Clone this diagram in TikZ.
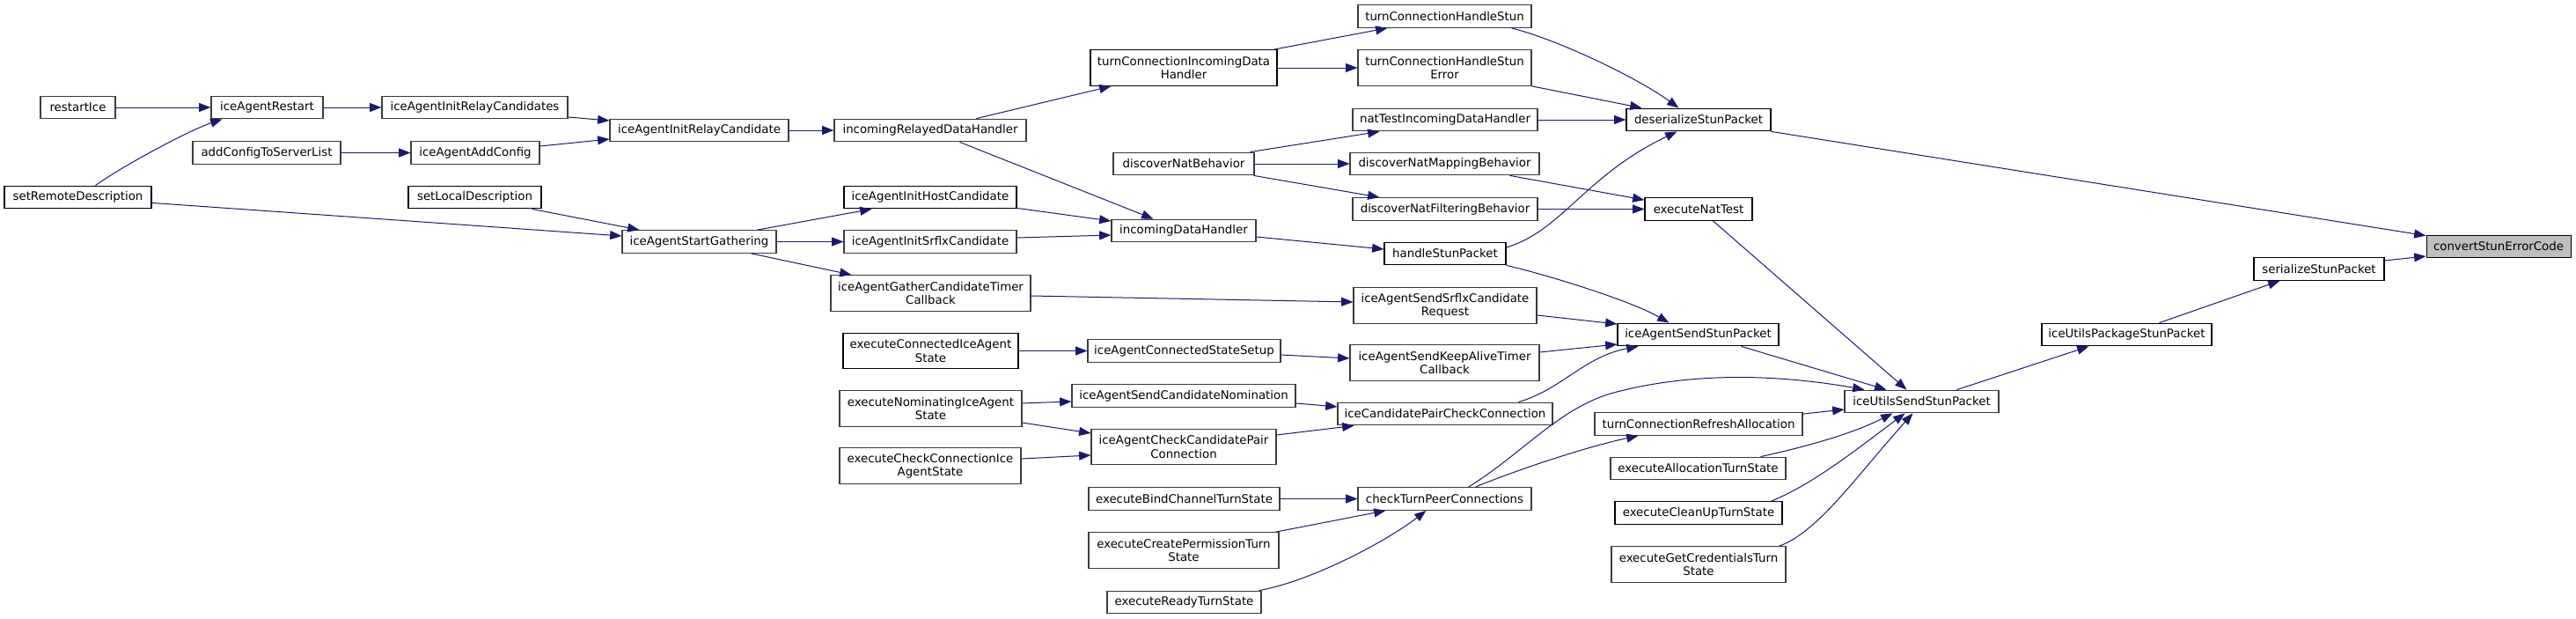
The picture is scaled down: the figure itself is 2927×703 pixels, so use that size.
\documentclass[tikz,border=0pt]{standalone}
\usepackage{fontspec}
\setmainfont{DejaVu Sans}
\usetikzlibrary{arrows.meta,calc}
\definecolor{edgeblue}{HTML}{191970}
\definecolor{bordergray}{HTML}{3C3C3C}
\definecolor{mainfill}{HTML}{BFBFBF}
\tikzset{
  box/.style={draw=bordergray, line width=0.8pt, fill=white, rectangle, inner sep=0pt, align=center,
    font=\fontsize{10}{11.3}\selectfont, text=black},
  dark/.style={draw=black},
  one/.style={box, minimum height=19.3pt},
  two/.style={box, minimum height=30.5pt},
  wd/.style={minimum width=#1*0.75pt},
  call/.style={draw=edgeblue, line width=0.75pt, -{Triangle[length=10pt,width=7.5pt]}, color=edgeblue},
}
\begin{document}
\begin{tikzpicture}[x=0.75pt,y=-0.75pt]
\useasboundingbox (0,0) rectangle (2927,703);
% column 1
\node[one,wd=85] (restartIce) at (88.5,122) {restartIce};
\node[one,wd=167,dark] (setRemoteDescription) at (88.5,224) {setRemoteDescription};
% column 2
\node[one,wd=127] (iceAgentRestart) at (303.5,122) {iceAgentRestart};
\node[one,wd=168] (addConfigToServerList) at (303,173.5) {addConfigToServerList};
% column 3
\node[one,wd=211] (iceAgentInitRelayCandidates) at (539.5,122) {iceAgentInitRelayCandidates};
\node[one,wd=146] (iceAgentAddConfig) at (540,173.5) {iceAgentAddConfig};
\node[one,wd=151,dark] (setLocalDescription) at (539.5,224) {setLocalDescription};
% column 4
\node[one,wd=203] (iceAgentInitRelayCandidate) at (794.5,148) {iceAgentInitRelayCandidate};
\node[one,wd=175] (iceAgentStartGathering) at (794.5,274.5) {iceAgentStartGathering};
% column 5
\node[one,wd=218] (incomingRelayedDataHandler) at (1057,148) {incomingRelayedDataHandler};
\node[one,wd=196,dark] (iceAgentInitHostCandidate) at (1057,224) {iceAgentInitHostCandidate};
\node[one,wd=196] (iceAgentInitSrflxCandidate) at (1057,274.5) {iceAgentInitSrflxCandidate};
\node[two,wd=227] (iceAgentGatherCandidateTimerCallback) at (1057.5,333) {iceAgentGatherCandidateTimer\\Callback};
\node[two,wd=199,dark] (executeConnectedIceAgentState) at (1057.5,398.5) {executeConnectedIceAgent\\State};
\node[two,wd=207] (executeNominatingIceAgentState) at (1057.5,464) {executeNominatingIceAgent\\State};
\node[two,wd=206] (executeCheckConnectionIceAgentState) at (1057,529) {executeCheckConnectionIce\\AgentState};
% column 6
\node[two,wd=212,dark] (turnConnectionIncomingDataHandler) at (1345,77) {turnConnectionIncomingData\\Handler};
\node[one,wd=160] (discoverNatBehavior) at (1345,186) {discoverNatBehavior};
\node[one,wd=164] (incomingDataHandler) at (1345,262) {incomingDataHandler};
\node[one,wd=219] (iceAgentConnectedStateSetup) at (1345.5,398.5) {iceAgentConnectedStateSetup};
\node[one,wd=254] (iceAgentSendCandidateNomination) at (1345,449.5) {iceAgentSendCandidateNomination};
\node[two,wd=210] (iceAgentCheckCandidatePairConnection) at (1345,507.5) {iceAgentCheckCandidatePair\\Connection};
\node[one,wd=217] (executeBindChannelTurnState) at (1345.5,566.5) {executeBindChannelTurnState};
\node[two,wd=216] (executeCreatePermissionTurnState) at (1345,625) {executeCreatePermissionTurn\\State};
\node[one,wd=175] (executeReadyTurnState) at (1345.5,684) {executeReadyTurnState};
% column 7
\node[one,wd=197] (turnConnectionHandleStun) at (1641.5,18.5) {turnConnectionHandleStun};
\node[two,wd=197] (turnConnectionHandleStunError) at (1641.5,77) {turnConnectionHandleStun\\Error};
\node[one,wd=210] (natTestIncomingDataHandler) at (1642,136) {natTestIncomingDataHandler};
\node[one,wd=215] (discoverNatMappingBehavior) at (1641.5,186) {discoverNatMappingBehavior};
\node[one,wd=210] (discoverNatFilteringBehavior) at (1642,237.5) {discoverNatFilteringBehavior};
\node[one,wd=138,dark] (handleStunPacket) at (1642,288) {handleStunPacket};
\node[two,wd=208] (iceAgentSendSrflxCandidateRequest) at (1642,347) {iceAgentSendSrflxCandidate\\Request};
\node[two,wd=215] (iceAgentSendKeepAliveTimerCallback) at (1641.5,412) {iceAgentSendKeepAliveTimer\\Callback};
\node[one,wd=244] (iceCandidatePairCheckConnection) at (1642,470) {iceCandidatePairCheckConnection};
\node[one,wd=197] (checkTurnPeerConnections) at (1641.5,566.5) {checkTurnPeerConnections};
% column 8
\node[one,wd=164,dark] (deserializeStunPacket) at (1930,136) {deserializeStunPacket};
\node[one,wd=122,dark] (executeNatTest) at (1930,237.5) {executeNatTest};
\node[one,wd=183,dark] (iceAgentSendStunPacket) at (1929.5,380) {iceAgentSendStunPacket};
\node[one,wd=236] (turnConnectionRefreshAllocation) at (1930,481.5) {turnConnectionRefreshAllocation};
\node[one,wd=199] (executeAllocationTurnState) at (1929.5,532) {executeAllocationTurnState};
\node[one,wd=190,dark] (executeCleanUpTurnState) at (1930,582.5) {executeCleanUpTurnState};
\node[two,wd=198] (executeGetCredentialsTurnState) at (1930,641) {executeGetCredentialsTurn\\State};
% column 9-12
\node[one,wd=175] (iceUtilsSendStunPacket) at (2183.5,456) {iceUtilsSendStunPacket};
\node[one,wd=193,dark] (iceUtilsPackageStunPacket) at (2416.5,380) {iceUtilsPackageStunPacket};
\node[one,wd=148,dark] (serializeStunPacket) at (2635,305.5) {serializeStunPacket};
\node[one,wd=164,dark,fill=mainfill] (convertStunErrorCode) at (2839,280) {convertStunErrorCode};

% edges
\draw[call] (restartIce.east) -- (iceAgentRestart.west);
\draw[call] ($(setRemoteDescription.north west)+(104,0)$) .. controls (140,188) and (215,148) .. ($(iceAgentRestart.south west)+(13,0)$);
\draw[call] ($(setRemoteDescription.south east)+(0,-7)$) -- ($(iceAgentStartGathering.west)+(0,-6.5)$);
\draw[call] (iceAgentRestart.east) -- (iceAgentInitRelayCandidates.west);
\draw[call] (addConfigToServerList.east) -- (iceAgentAddConfig.west);
\draw[call] ($(iceAgentInitRelayCandidates.east)+(0,11)$) -- ($(iceAgentInitRelayCandidate.west)+(0,-11)$);
\draw[call] ($(iceAgentAddConfig.east)+(0,-7.5)$) -- ($(iceAgentInitRelayCandidate.west)+(0,10)$);
\draw[call] ($(setLocalDescription.south west)+(141,0)$) -- ($(iceAgentStartGathering.north west)+(20,0)$);
\draw[call] (iceAgentInitRelayCandidate.east) -- (incomingRelayedDataHandler.west);
\draw[call] ($(incomingRelayedDataHandler.north west)+(162,0)$) -- ($(turnConnectionIncomingDataHandler.south west)+(24,0)$);
\draw[call] ($(incomingRelayedDataHandler.south west)+(143,0)$) -- ($(incomingDataHandler.north west)+(48,0)$);
\draw[call] ($(iceAgentStartGathering.north west)+(154,0)$) -- ($(iceAgentInitHostCandidate.south west)+(32,0)$);
\draw[call] (iceAgentStartGathering.east) -- (iceAgentInitSrflxCandidate.west);
\draw[call] ($(iceAgentStartGathering.south west)+(147,0)$) -- ($(iceAgentGatherCandidateTimerCallback.north west)+(24,0)$);
\draw[call] ($(iceAgentInitHostCandidate.south east)+(0,-1)$) -- ($(incomingDataHandler.west)+(0,-11)$);
\draw[call] ($(iceAgentInitSrflxCandidate.east)+(0,-4.5)$) -- ($(incomingDataHandler.west)+(0,5)$);
\draw[call] ($(iceAgentGatherCandidateTimerCallback.east)+(0,3)$) -- ($(iceAgentSendSrflxCandidateRequest.west)+(0,-4)$);
\draw[call] ($(turnConnectionIncomingDataHandler.north east)+(-4,0)$) -- ($(turnConnectionHandleStun.south west)+(34,0)$);
\draw[call] (turnConnectionIncomingDataHandler.east) -- (turnConnectionHandleStunError.west);
\draw[call] ($(discoverNatBehavior.north east)+(-5,0)$) -- ($(natTestIncomingDataHandler.south west)+(31,0)$);
\draw[call] (discoverNatBehavior.east) -- (discoverNatMappingBehavior.west);
\draw[call] ($(discoverNatBehavior.south east)+(-1,0)$) -- ($(discoverNatFilteringBehavior.north west)+(31,0)$);
\draw[call] ($(incomingDataHandler.east)+(0,7)$) -- ($(handleStunPacket.west)+(0,-5)$);
\draw[call] ($(turnConnectionHandleStun.south east)+(-23,0)$) .. controls (1770,45) and (1860,88) .. ($(deserializeStunPacket.north west)+(60,0)$);
\draw[call] (turnConnectionHandleStunError.south east) -- ($(deserializeStunPacket.north west)+(18,0)$);
\draw[call] (natTestIncomingDataHandler.east) -- (deserializeStunPacket.west);
\draw[call] ($(handleStunPacket.east)+(0,-7)$) .. controls (1775,262) and (1800,200) .. ($(deserializeStunPacket.south west)+(58,0)$);
\draw[call] ($(discoverNatMappingBehavior.south east)+(-34,0)$) -- ($(executeNatTest.north west)+(0,3)$);
\draw[call] (discoverNatFilteringBehavior.east) -- (executeNatTest.west);
\draw[call] (handleStunPacket.south east) .. controls (1750,310) and (1850,340) .. ($(iceAgentSendStunPacket.north west)+(59,0)$);
\draw[call] ($(iceAgentSendSrflxCandidateRequest.east)+(0,11)$) -- ($(iceAgentSendStunPacket.west)+(0,-12)$);
\draw[call] ($(iceAgentSendKeepAliveTimerCallback.east)+(0,-12)$) -- ($(iceAgentSendStunPacket.west)+(0,11)$);
\draw[call] ($(iceCandidatePairCheckConnection.north west)+(206,0)$) .. controls (1775,442) and (1800,405) .. ($(iceAgentSendStunPacket.south west)+(24,0)$);
\draw[call] (executeConnectedIceAgentState.east) -- (iceAgentConnectedStateSetup.west);
\draw[call] ($(iceAgentConnectedStateSetup.east)+(0,4.5)$) -- ($(iceAgentSendKeepAliveTimerCallback.west)+(0,-5)$);
\draw[call] ($(executeNominatingIceAgentState.east)+(0,-6)$) -- ($(iceAgentSendCandidateNomination.west)+(0,6.5)$);
\draw[call] ($(executeNominatingIceAgentState.east)+(0,16)$) -- ($(iceAgentCheckCandidatePairConnection.west)+(0,-15.5)$);
\draw[call] ($(executeCheckConnectionIceAgentState.east)+(0,-8)$) -- ($(iceAgentCheckCandidatePairConnection.west)+(0,9.5)$);
\draw[call] ($(iceAgentSendCandidateNomination.east)+(0,8.5)$) -- ($(iceCandidatePairCheckConnection.west)+(0,-8)$);
\draw[call] ($(iceAgentCheckCandidatePairConnection.east)+(0,-13.5)$) -- ($(iceCandidatePairCheckConnection.south west)+(19,0)$);
\draw[call] (executeBindChannelTurnState.east) -- (checkTurnPeerConnections.west);
\draw[call] ($(executeCreatePermissionTurnState.north east)+(-4,0)$) -- ($(checkTurnPeerConnections.south west)+(32,0)$);
\draw[call] ($(executeReadyTurnState.north east)+(-3,0)$) .. controls (1490,660) and (1575,615) .. ($(checkTurnPeerConnections.south west)+(78,0)$);
\draw[call] ($(checkTurnPeerConnections.north west)+(126,0)$) .. controls (1730,515) and (1770,465) .. (1830,447) .. controls (1920,422) and (2020,425) .. ($(iceUtilsSendStunPacket.north west)+(23,0)$);
\draw[call] ($(checkTurnPeerConnections.north west)+(134,0)$) .. controls (1720,535) and (1800,508) .. ($(turnConnectionRefreshAllocation.south west)+(50,0)$);
\draw[call] ($(executeNatTest.south west)+(78,0)$) -- ($(iceUtilsSendStunPacket.north west)+(71,0)$);
\draw[call] ($(iceAgentSendStunPacket.south west)+(141,0)$) -- ($(iceUtilsSendStunPacket.north west)+(48,0)$);
\draw[call] ($(turnConnectionRefreshAllocation.north east)+(0,2)$) -- ($(iceUtilsSendStunPacket.west)+(0,9)$);
\draw[call] ($(executeAllocationTurnState.north east)+(-29,0)$) .. controls (2040,510) and (2100,495) .. ($(iceUtilsSendStunPacket.south west)+(55,0)$);
\draw[call] ($(executeCleanUpTurnState.north east)+(-13,0)$) .. controls (2060,550) and (2110,510) .. ($(iceUtilsSendStunPacket.south west)+(69,0)$);
\draw[call] ($(executeGetCredentialsTurnState.north east)+(-8,0)$) .. controls (2065,605) and (2110,540) .. ($(iceUtilsSendStunPacket.south west)+(78,0)$);
\draw[call] ($(iceUtilsSendStunPacket.north west)+(128,0)$) -- ($(iceUtilsPackageStunPacket.south west)+(54,0)$);
\draw[call] ($(iceUtilsPackageStunPacket.north west)+(134,0)$) -- ($(serializeStunPacket.south west)+(30,0)$);
\draw[call] ($(serializeStunPacket.east)+(0,-9.5)$) -- ($(convertStunErrorCode.west)+(0,11)$);
\draw[call] (deserializeStunPacket.south east) -- ($(convertStunErrorCode.north west)+(0,1)$);
\end{tikzpicture}
\end{document}
